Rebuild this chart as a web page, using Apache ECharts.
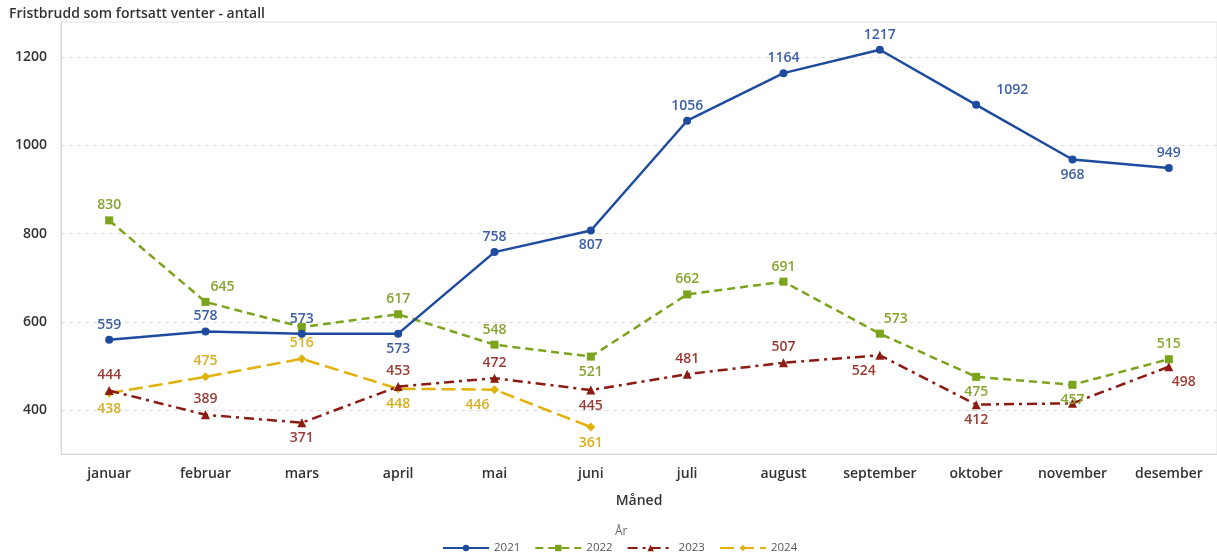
<!DOCTYPE html>
<html>
<head>
<meta charset="utf-8">
<script src="https://cdn.jsdelivr.net/npm/echarts@6/dist/echarts.min.js"></script>
<style>html,body{margin:0;padding:0;background:#fff}#c{width:1217px;height:555px}</style>
</head>
<body>
<div id="c"></div>
<script>
const months = ['januar','februar','mars','april','mai','juni','juli','august','september','oktober','november','desember'];
const years = ['2021','2022','2023','2024'];
const v2021 = [559,578,573,573,758,807,1056,1164,1217,1092,968,949];
const v2022 = [830,645,588,617,548,521,662,691,573,475,457,515];
const v2023 = [444,389,371,453,472,445,481,507,524,412,415,498];
const v2024 = [438,475,516,448,446,361];
const yTicks = [400,600,800,1000,1200];

// label placement per point: [position, dx, show]
const lp2021 = [['top',0],['top',0],['top',0],['bottom',0],['top',0],['bottom',0],['top',0],['top',0],['top',0],['top',36],['bottom',0],['top',0]];
const lp2022 = [['top',0],['top',17],['top',0,false],['top',0],['top',0],['bottom',0],['top',0],['top',0],['top',16],['bottom',0],['bottom',0],['top',0]];
const lp2023 = [['top',0],['top',0],['bottom',0],['top',0],['top',0],['bottom',0],['top',0],['top',0],['bottom',-16],['bottom',0],['bottom',0,false],['bottom',15]];
const lp2024 = [['bottom',0],['top',0],['top',0],['bottom',0],['bottom',-17],['bottom',0]];

const lineCol = ['#1d4b9f','#7ba41c','#8c1b12','#e2b20a'];
const labCol = ['#3d5fa6','#86a52e','#9b3b34','#d8b01c'];
const FONT = '"Open Sans", "Noto Sans", sans-serif';

function mk(vals, lp, idx, symbol, dash, size){
  return {
    name: years[idx], type:'line', symbol: symbol, symbolSize: size,
    data: vals.map((v,i)=>({value:v, label:{show: lp[i][2]!==false, position: lp[i][0], offset:[lp[i][1],0]}})),
    lineStyle:{color: lineCol[idx], width: 2.5, type: dash},
    itemStyle:{color: lineCol[idx]},
    label:{color: labCol[idx], fontSize: 14, fontWeight: 600, fontFamily: FONT, distance: 4},
    z: 10-idx
  };
}

const chart = echarts.init(document.getElementById('c'));
chart.setOption({
  animation:false,
  backgroundColor:'#fff',
  title:[
    {text:'Fristbrudd som fortsatt venter - antall', left:4, top:2, textStyle:{fontSize:14, fontWeight:600, color:'#333', fontFamily:FONT}},
    {text:'År', left:610, top:521, textStyle:{fontSize:12, fontWeight:400, color:'#666', fontFamily:FONT}}
  ],
  grid:{left:61, top:22, right:-6, bottom:101, show:true, borderColor:'#e2e2e2', borderWidth:1},
  legend:{
    left:437, top:537, itemWidth:46, itemHeight:8, itemGap:14,
    textStyle:{fontSize:11.5, color:'#555', fontFamily:FONT},
    data: years
  },
  xAxis:{
    type:'category', data: months, boundaryGap:true,
    name:'Måned', nameLocation:'middle', nameGap:40,
    nameTextStyle:{fontSize:14, fontWeight:600, color:'#333', fontFamily:FONT},
    axisLine:{lineStyle:{color:'#d6d6d6'}},
    axisTick:{alignWithLabel:true, length:4, lineStyle:{color:'#d6d6d6'}},
    axisLabel:{fontSize:14, fontWeight:600, color:'#333', margin:13, fontFamily:FONT},
    splitLine:{show:false}
  },
  yAxis:{
    type:'value', min:300, max:1280, interval:100,
    axisLine:{show:true, lineStyle:{color:'#d6d6d6'}},
    axisTick:{show:false},
    axisLabel:{fontSize:14, fontWeight:600, color:'#333', margin:14, fontFamily:FONT,
      formatter: v => yTicks.indexOf(v) >= 0 ? String(v) : ''},
    splitLine:{show:true, lineStyle:{type:[4,4], color:['rgba(0,0,0,0)','#dcdcdc','rgba(0,0,0,0)','#dcdcdc','rgba(0,0,0,0)','#dcdcdc','rgba(0,0,0,0)','#dcdcdc','rgba(0,0,0,0)','#dcdcdc','rgba(0,0,0,0)']}}
  },
  series:[
    mk(v2021, lp2021, 0, 'circle', 'solid', 8),
    mk(v2022, lp2022, 1, 'rect', [8,5], 8),
    mk(v2023, lp2023, 2, 'triangle', [10,5,3,5], 9),
    mk(v2024, lp2024, 3, 'diamond', [14,6], 9)
  ]
});
</script>
</body>
</html>
